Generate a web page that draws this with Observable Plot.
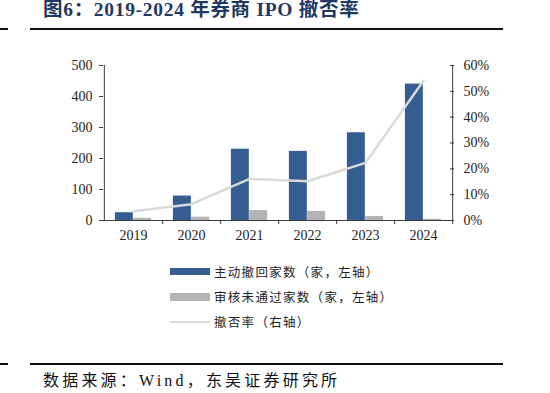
<!DOCTYPE html>
<html><head><meta charset="utf-8">
<script src="https://cdn.jsdelivr.net/npm/d3@7"></script>
<script src="https://cdn.jsdelivr.net/npm/@observablehq/plot@0.6"></script>
<style>
body{margin:0;background:#fff;}
#wrap{position:relative;width:550px;height:393px;overflow:hidden;background:#fff;font-family:"Noto Sans CJK SC",sans-serif;}
.title{position:absolute;left:43px;top:0px;font:bold 19.5px/20px "Liberation Serif","Noto Sans CJK SC",serif;letter-spacing:0.7px;color:#1f3864;white-space:nowrap;}
.rule{position:absolute;height:2px;background:#111;}
#chart{position:absolute;left:0;top:50px;}
.legend{position:absolute;left:170px;top:259px;}
.item{display:flex;align-items:center;height:25px;font-size:12.5px;letter-spacing:1.3px;color:#222;white-space:nowrap;}
.sw{width:40px;margin-right:4px;}
.caption{position:absolute;left:43px;top:372px;font-size:16px;line-height:18px;letter-spacing:3.2px;color:#111;font-family:"Liberation Serif","Noto Sans CJK SC",serif;white-space:nowrap;}
</style></head>
<body>
<div id="wrap">
  <div class="title">图6：2019-2024 年券商 IPO 撤否率</div>
  <div class="rule" style="left:0;top:27.5px;width:8px"></div>
  <div class="rule" style="left:30px;top:27.5px;width:473px"></div>
  <div id="chart"></div>
  <div class="legend">
    <div class="item"><span class="sw" style="height:7px;background:#345d92"></span><span>主动撤回家数（家，左轴）</span></div>
    <div class="item"><span class="sw" style="height:8px;background:#b3b3b3"></span><span>审核未通过家数（家，左轴）</span></div>
    <div class="item"><span class="sw" style="height:2px;background:#d9d9d9"></span><span>撤否率（右轴）</span></div>
  </div>
  <div class="rule" style="left:0;top:362.5px;width:8px"></div>
  <div class="rule" style="left:30px;top:362.5px;width:473px"></div>
  <div class="caption">数据来源：Wind，东吴证券研究所</div>
</div>
<script>
const years = ["2019", "2020", "2021", "2022", "2023", "2024"];
const withdrawn = [25, 79, 230, 223, 283, 440];   // 主动撤回家数
const rejected = [7, 11, 32, 29, 13, 4];          // 审核未通过家数
const rate = [3.6, 6.3, 16.1, 15.2, 22.3, 54.1];  // 撤否率 %
const leftTicks = [0, 100, 200, 300, 400, 500];
const rightTicks = [0, 10, 20, 30, 40, 50, 60];

const rows = years.map((y, i) => ({year: y, withdrawn: withdrawn[i], rejected: rejected[i], rate: rate[i]}));
const W = 550, H = 200, mL = 103, mR = 97, mT = 15, mB = 30;
const band = (W - mL - mR) / years.length;
const k = 500 / 60;
const axisColor = "#3a3a3a";

const chart = Plot.plot({
  width: W, height: H,
  marginLeft: mL, marginRight: mR, marginTop: mT, marginBottom: mB,
  style: {fontFamily: "'Liberation Serif','Times New Roman',serif", fontSize: "14px", color: "#222", background: "white", overflow: "visible"},
  x: {type: "band", domain: years, padding: 0},
  y: {domain: [0, 500]},
  marks: [
    Plot.barY(rows, {x: "year", y: "withdrawn", fill: "#345d92", insetLeft: 10.9, insetRight: band / 2}),
    Plot.barY(rows, {x: "year", y: "rejected", fill: "#b3b3b3", insetLeft: band / 2, insetRight: 10.9}),
    Plot.ruleY([0], {stroke: axisColor}),
    Plot.ruleX([years[0]], {dx: -band / 2, stroke: axisColor}),
    Plot.ruleX([years[years.length - 1]], {dx: band / 2, stroke: axisColor}),
    Plot.lineY(rows, {x: "year", y: d => d.rate * k, stroke: "#d9d9d9", strokeWidth: 2.5}),
    Plot.axisY(leftTicks, {anchor: "left", tickSize: 4, tickPadding: 7, label: null, stroke: axisColor}),
    Plot.axisY(rightTicks.map(v => v * k), {anchor: "right", tickSize: 0, tickPadding: 10, label: null, tickFormat: d => Math.round(d / k) + "%"}),
    Plot.axisY(rightTicks.map(v => v * k), {anchor: "right", tickSize: -4, label: null, tickFormat: () => "", stroke: axisColor}),
    Plot.axisX({tickSize: 0, tickPadding: 10, label: null}),
    Plot.axisX({tickSize: 4, tickFormat: () => "", dx: band / 2, label: null, stroke: axisColor})
  ]
});
document.getElementById("chart").appendChild(chart);
</script>
</body></html>
